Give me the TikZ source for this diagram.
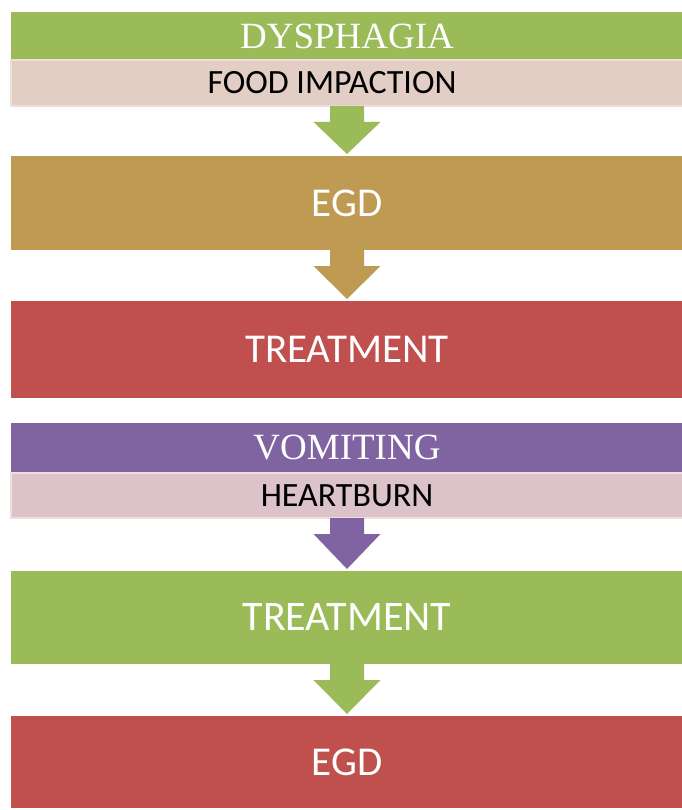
\documentclass[tikz,border=0pt]{standalone}
\usepackage{fontspec}
\usetikzlibrary{positioning, calc}
\newfontfamily\bodyfont{Carlito}
\newfontfamily\headfont{Liberation Serif}

\definecolor{leafgreen}{HTML}{9BBB59}
\definecolor{sandtan}{HTML}{BE9A52}
\definecolor{brickred}{HTML}{C0504D}
\definecolor{lilac}{HTML}{8064A2}
\definecolor{blushA}{HTML}{E2CEC5}
\definecolor{blushB}{HTML}{DCC3C9}
\definecolor{blushedge}{HTML}{EEDFDA}

\begin{document}
\begin{tikzpicture}[
    x=1pt, y=-1pt,
    % Node styles
    bar/.style={
        rectangle,
        fill=#1,
        minimum width=672pt,
        inner sep=0pt,
        outer sep=0pt,
        align=center
    },
    headbar/.style={
        bar=#1,
        minimum height=48pt,
        text=white,
        font=\headfont\fontsize{37}{40}\selectfont
    },
    subbar/.style={
        bar=#1,
        draw=blushedge,
        line width=1.5pt,
        minimum height=46pt,
        text=black,
        font=\bodyfont\fontsize{34}{40}\selectfont
    },
    stepbox/.style={
        bar=#1,
        minimum height=94pt,
        text=white,
        font=\bodyfont\fontsize{41}{46}\selectfont
    },
    % block arrow from one bar down to the next
    blockarrow/.style={
        fill=#1,
        to path={
            ($(\tikztostart.south)+(-17,0)$) -- ($(\tikztostart.south)+(17,0)$)
            -- ++(0,16) -- ++(16.5,0) -- ($(\tikztotarget.north)+(0,-2)$)
            -- ($(\tikztostart.south)+(-33.5,16)$) -- ++(16.5,0) -- cycle
        }
    }
]
\useasboundingbox (0,0) rectangle (681,810);

% --- Nodes (top to bottom) ---

% First pathway
\node[headbar=leafgreen] (dysphagia) at (347,36) {DYSPHAGIA};
\node[subbar=blushA, below=0pt of dysphagia] (impaction) {FOOD IMPACTION\hspace*{30pt}};
\node[stepbox=sandtan, below=50pt of impaction] (egdA) {EGD};
\node[stepbox=brickred, minimum height=97pt, below=51pt of egdA] (treatA) {TREATMENT};

% Second pathway
\node[headbar=lilac, minimum height=50pt, below=25pt of treatA] (vomiting) {VOMITING};
\node[subbar=blushB, minimum height=45pt, below=0pt of vomiting] (heartburn) {HEARTBURN};
\node[stepbox=leafgreen, minimum height=93pt, below=53pt of heartburn, font=\bodyfont\fontsize{42}{46}\selectfont] (treatB) {TREATMENT};
\node[stepbox=brickred, minimum height=92pt, below=52pt of treatB] (egdB) {EGD};

% --- Arrows ---
\path[blockarrow=leafgreen] (impaction) to (egdA);
\path[blockarrow=sandtan] (egdA) to (treatA);
\path[blockarrow=lilac] (heartburn) to (treatB);
\path[blockarrow=leafgreen] (treatB) to (egdB);

\end{tikzpicture}
\end{document}
